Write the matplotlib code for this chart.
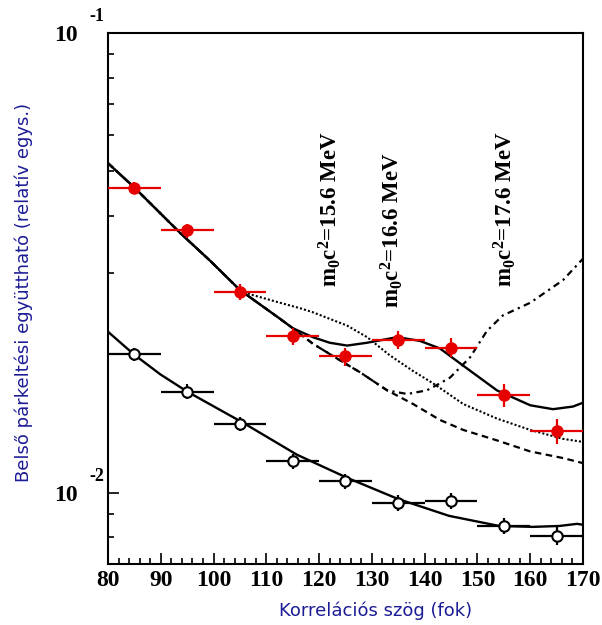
import matplotlib
matplotlib.use('Agg')
import matplotlib.pyplot as plt
from matplotlib.ticker import MultipleLocator, NullFormatter, LogLocator

# measured points (angle in degrees)
angle = [85, 95, 105, 115, 125, 135, 145, 155, 165]
angle_err = [5, 5, 5, 5, 5, 5, 5, 5, 5]
red_y = [0.0460, 0.0372, 0.0274, 0.0219, 0.0198, 0.0215, 0.0207, 0.0163, 0.0136]
red_err = [0.0014, 0.0013, 0.0011, 0.0009, 0.0009, 0.0010, 0.0010, 0.0009, 0.00085]
open_y = [0.0200, 0.0166, 0.0141, 0.0117, 0.0106, 0.00951, 0.00961, 0.00847, 0.00806]
open_err = [0.0007, 0.0006, 0.0005, 0.00045, 0.0004, 0.0004, 0.0004, 0.00035, 0.00035]

# fitted curves
fit_x = [80, 85.1, 93.6, 99.3, 105, 112.6, 115, 118.8, 122, 125.3, 129.1, 134.8,
         139.1, 142.9, 147.3, 153.7, 160, 164.3, 168.1, 170]
fit_y = [0.0521, 0.0460, 0.0368, 0.0320, 0.0276, 0.0239, 0.0228, 0.0218, 0.0212, 0.0209,
         0.0212, 0.0218, 0.0214, 0.0206, 0.0189, 0.0167, 0.0155, 0.0152, 0.0154, 0.0157]

m156_x = [80, 85.1, 93.6, 99.3, 105, 107, 112.6, 116.4, 118.8, 125.3, 129.1, 133.4,
          137.8, 141.6, 147.3, 153.7, 160, 166.2, 170]
m156_y = [0.0521, 0.0460, 0.0368, 0.0320, 0.0276, 0.0270, 0.0259, 0.0252, 0.0247, 0.0231,
          0.0218, 0.0199, 0.0184, 0.0173, 0.0156, 0.0145, 0.0137, 0.0131, 0.0129]

bg_x = [80, 85.1, 93.6, 99.3, 105, 112.6, 115, 118.8, 125.3, 127.7, 132.9, 137.8,
        142.9, 147.3, 153.7, 160, 166.2, 170]
bg_y = [0.0521, 0.0460, 0.0368, 0.0320, 0.0276, 0.0239, 0.0228, 0.0211, 0.0190, 0.0183,
        0.0167, 0.0156, 0.0144, 0.0137, 0.0130, 0.0123, 0.0119, 0.0116]

m176_x = [80, 85.1, 93.6, 99.3, 105, 112.6, 115, 118.8, 125.3, 127.7, 132.9, 136.7,
          140.4, 142.9, 144.8, 148.6, 151.8, 154.8, 160, 166.2, 170]
m176_y = [0.0521, 0.0460, 0.0368, 0.0320, 0.0276, 0.0239, 0.0228, 0.0211, 0.0190, 0.0183,
          0.0167, 0.0164, 0.0167, 0.0173, 0.0178, 0.0197, 0.0225, 0.0243, 0.0259, 0.0290, 0.0323]

low_x = [80, 84.9, 89.9, 95, 105.6, 115.8, 125.3, 134.9, 144.6, 154.1, 160.5, 165.6, 168.9, 170]
low_y = [0.0224, 0.0200, 0.0181, 0.0166, 0.0142, 0.0121, 0.01078, 0.00970, 0.00891,
         0.00847, 0.00843, 0.00847, 0.00856, 0.00852]

labels = ['m$_\\mathregular{0}$c$^\\mathregular{2}$=15.6 MeV',
          'm$_\\mathregular{0}$c$^\\mathregular{2}$=16.6 MeV',
          'm$_\\mathregular{0}$c$^\\mathregular{2}$=17.6 MeV']

plt.rcParams['mathtext.fontset'] = 'custom'
plt.rcParams['mathtext.rm'] = 'Liberation Serif:bold'
plt.rcParams['mathtext.it'] = 'Liberation Serif:italic:bold'
plt.rcParams['mathtext.bf'] = 'Liberation Serif:bold'

blue = '#1c1c96'
red = '#e60000'

fig = plt.figure(figsize=(6.02, 6.25), dpi=100)
ax = fig.add_axes([108/602, 1-564/625, 475/602, 531/625])
ax.set_yscale('log')

# curves
ax.plot(low_x, low_y, color='black', lw=1.7, zorder=2)
ax.plot(bg_x, bg_y, color='black', lw=1.6, linestyle=(0, (3, 2)), zorder=2)
ax.plot(m176_x, m176_y, color='black', lw=1.6, linestyle=(0, (3, 2, 1, 2)), zorder=2)
ax.plot(m156_x, m156_y, color='black', lw=1.5, linestyle=(0, (1, 1)), zorder=2)
ax.plot(fit_x, fit_y, color='black', lw=1.7, zorder=3)

# data
ax.errorbar(angle, open_y, xerr=angle_err, yerr=open_err, fmt='o', color='black',
            mfc='white', mec='black', mew=1.5, ms=7.5, elinewidth=1.6, capsize=0, zorder=4)
ax.errorbar(angle, red_y, xerr=angle_err, yerr=red_err, fmt='o', color=red,
            ms=8, elinewidth=1.6, capsize=0, zorder=5)

ax.set_xlim(80, 170)
ax.set_ylim(0.007, 0.1)

ax.set_xticks(range(80, 171, 10))
ax.xaxis.set_minor_locator(MultipleLocator(2))
ax.yaxis.set_minor_locator(LogLocator(base=10, subs=range(2, 10)))
ax.yaxis.set_minor_formatter(NullFormatter())
ax.tick_params(which='both', direction='in', top=False, right=False, width=1.2)
ax.tick_params(which='major', length=8)
ax.tick_params(which='minor', length=4)
ax.tick_params(axis='y', which='both', labelleft=False)
ax.tick_params(axis='x', labelsize=17, pad=4)
plt.setp(ax.get_xticklabels(), fontfamily='Liberation Serif', fontweight='bold')
for s in ax.spines.values():
    s.set_linewidth(1.5)

# ROOT-like 10^n labels
for val, exp in [(0.1, '-1'), (0.01, '-2')]:
    ax.annotate('10', xy=(0, val), xycoords=('axes fraction', 'data'),
                xytext=(-30, -2), textcoords='offset points', ha='center', va='center',
                fontsize=17, fontfamily='Liberation Serif', fontweight='bold')
    ax.annotate(exp, xy=(0, val), xycoords=('axes fraction', 'data'),
                xytext=(-8, 12), textcoords='offset points', ha='center', va='center',
                fontsize=13, fontfamily='Liberation Serif', fontweight='bold')

# mass labels
for xa, ya, txt in zip([0.467, 0.598, 0.836], [0.522, 0.482, 0.522], labels):
    ax.text(xa, ya, txt, transform=ax.transAxes, rotation=90, ha='center', va='bottom',
            fontsize=16.5, fontfamily='Liberation Serif', fontweight='bold')

fig.text(376/602, 1-611/625, 'Korrelációs szög (fok)', ha='center', va='center',
         color=blue, fontsize=13, fontfamily='DejaVu Sans')
fig.text(24/602, 1-292/625, 'Belső párkeltési együttható (relatív egys.)', ha='center',
         va='center', rotation=90, color=blue, fontsize=13, fontfamily='DejaVu Sans')

fig.savefig('out.png', dpi=100)
